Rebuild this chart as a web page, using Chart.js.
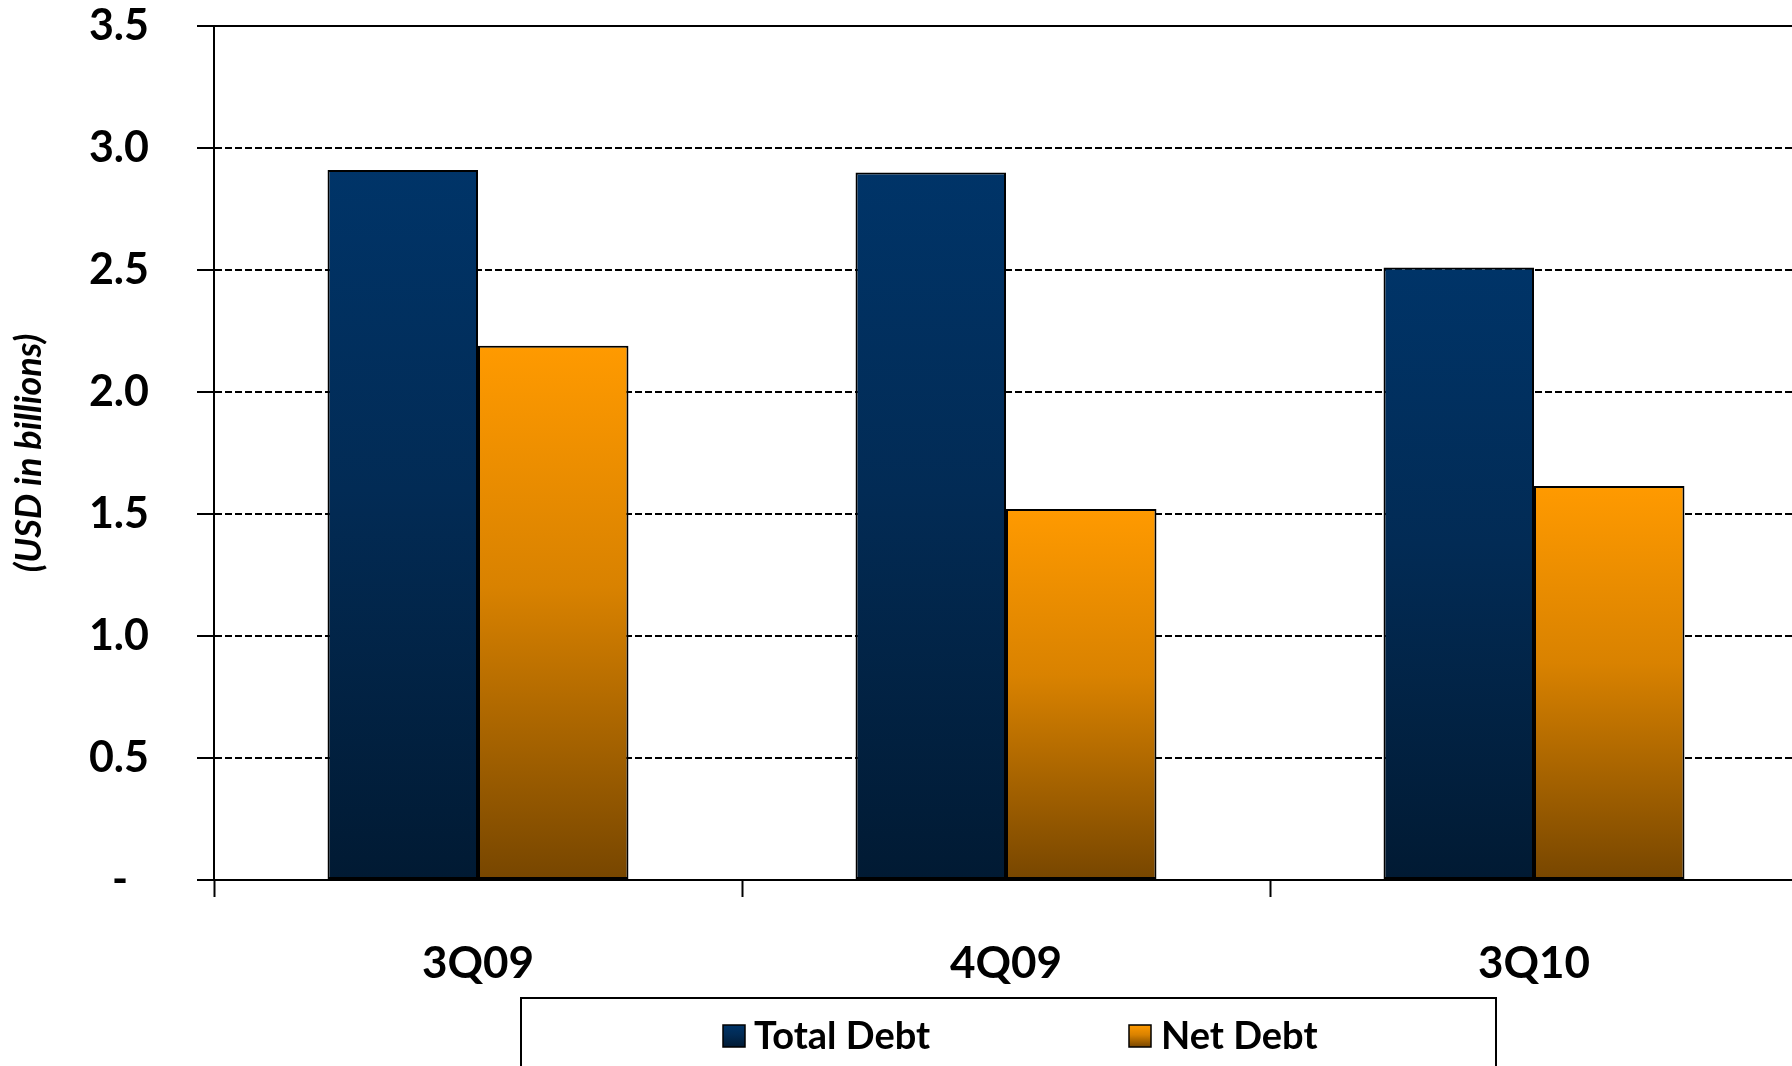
<!DOCTYPE html>
<html>
<head>
<meta charset="utf-8">
<script src="https://cdn.jsdelivr.net/npm/chart.js@4"></script>
<style>
  html, body { margin: 0; padding: 0; background: #fff; overflow: hidden; }
  #wrap { width: 1792px; height: 1066px; position: relative; overflow: hidden; }
</style>
</head>
<body>
<div id="wrap"><canvas id="c" width="1798" height="1066"></canvas></div>
<script>
const categories = ['3Q09', '4Q09', '3Q10'];
const totalDebt = [2.91, 2.90, 2.51];
const netDebt = [2.19, 1.52, 1.615];
const seriesNames = ['Total Debt', 'Net Debt'];
const yTickLabels = ['-', '0.5', '1.0', '1.5', '2.0', '2.5', '3.0', '3.5'];
const yAxisTitle = '(USD in billions)';

const FONT = 'Lato, "DejaVu Sans", sans-serif';
const palettes = [
  ['#003468', '#022b55', '#011a33'],
  ['#ff9a00', '#d98200', '#774600']
];

function makeGrad(ctx, top, bottom, pal) {
  const g = ctx.createLinearGradient(0, top, 0, bottom);
  g.addColorStop(0, pal[0]);
  g.addColorStop(0.45, pal[1]);
  g.addColorStop(1, pal[2]);
  return g;
}

function barFill(dsIndex) {
  return (c) => {
    const chart = c.chart;
    if (!chart.chartArea || c.type !== 'data' || !c.parsed) return palettes[dsIndex][0];
    const y = chart.scales.y;
    const top = y.getPixelForValue(c.parsed.y);
    const base = y.getPixelForValue(0);
    return makeGrad(chart.ctx, top, base, palettes[dsIndex]);
  };
}

const frameAndLegend = {
  id: 'frameAndLegend',
  afterDatasetsDraw(chart) {
    const {ctx, chartArea} = chart;
    const y = chart.scales.y;
    const yt = y.getPixelForValue(y.max);
    ctx.save();
    ctx.strokeStyle = '#000';
    ctx.lineWidth = 2;
    ctx.beginPath();
    ctx.moveTo(chartArea.left - 17, yt);
    ctx.lineTo(chartArea.right, yt);
    ctx.stroke();
    ctx.restore();
  },
  afterDraw(chart) {
    const {ctx} = chart;
    ctx.save();
    ctx.strokeStyle = '#000';
    ctx.lineWidth = 2;
    ctx.strokeRect(521, 998, 975, 140);
    const items = [
      {x: 723, tx: 754},
      {x: 1129, tx: 1161}
    ];
    ctx.font = 'bold 38px ' + FONT;
    ctx.textBaseline = 'middle';
    ctx.textAlign = 'left';
    chart.data.datasets.forEach((ds, i) => {
      const it = items[i];
      const sy = 1025, s = 22;
      ctx.fillStyle = makeGrad(ctx, sy, sy + s, palettes[i]);
      ctx.fillRect(it.x, sy, s, s);
      ctx.lineWidth = 1.5;
      ctx.strokeStyle = '#000';
      ctx.strokeRect(it.x, sy, s, s);
      ctx.fillStyle = '#000';
      ctx.fillText(ds.label, it.tx, 1037);
    });
    ctx.restore();
  }
};

new Chart(document.getElementById('c'), {
  type: 'bar',
  data: {
    labels: categories,
    datasets: [
      {
        label: seriesNames[0],
        data: totalDebt,
        backgroundColor: barFill(0),
        borderColor: '#000',
        borderWidth: 2,
        borderSkipped: false,
        categoryPercentage: 0.57,
        barPercentage: 1.0
      },
      {
        label: seriesNames[1],
        data: netDebt,
        backgroundColor: barFill(1),
        borderColor: '#000',
        borderWidth: 2,
        borderSkipped: false,
        categoryPercentage: 0.57,
        barPercentage: 1.0
      }
    ]
  },
  options: {
    responsive: false,
    animation: false,
    devicePixelRatio: 1,
    layout: { padding: { top: 26, left: 0, right: 0, bottom: 0 } },
    plugins: {
      legend: { display: false },
      tooltip: { enabled: false }
    },
    scales: {
      x: {
        afterFit: (s) => { s.height = 186; },
        grid: {
          display: true,
          drawOnChartArea: false,
          drawTicks: true,
          tickLength: 17,
          tickColor: '#000',
          tickWidth: 2,
          offset: true
        },
        border: { display: true, color: '#000', width: 2 },
        ticks: {
          color: '#000',
          padding: 40,
          font: { family: FONT, size: 44, weight: 'bold' }
        }
      },
      y: {
        min: 0,
        max: 3.5,
        afterFit: (s) => { s.width = 214; s.paddingTop = 20; s.paddingBottom = 0; },
        ticks: {
          stepSize: 0.5,
          color: '#000',
          padding: 48,
          font: { family: FONT, size: 43, weight: 'bold' },
          callback: (v, i) => (i === 0 ? yTickLabels[i] + '  ' : yTickLabels[i])
        },
        grid: {
          color: '#000',
          lineWidth: 2,
          drawTicks: true,
          tickLength: 17,
          tickColor: '#000',
          tickWidth: 2
        },
        border: { display: true, color: '#000', width: 2, dash: [7, 3] },
        title: {
          display: true,
          text: yAxisTitle,
          color: '#000',
          padding: { top: 8, bottom: 0 },
          font: { family: FONT, size: 36, weight: 'bold', style: 'italic' }
        }
      }
    }
  },
  plugins: [frameAndLegend]
});
</script>
</body>
</html>
